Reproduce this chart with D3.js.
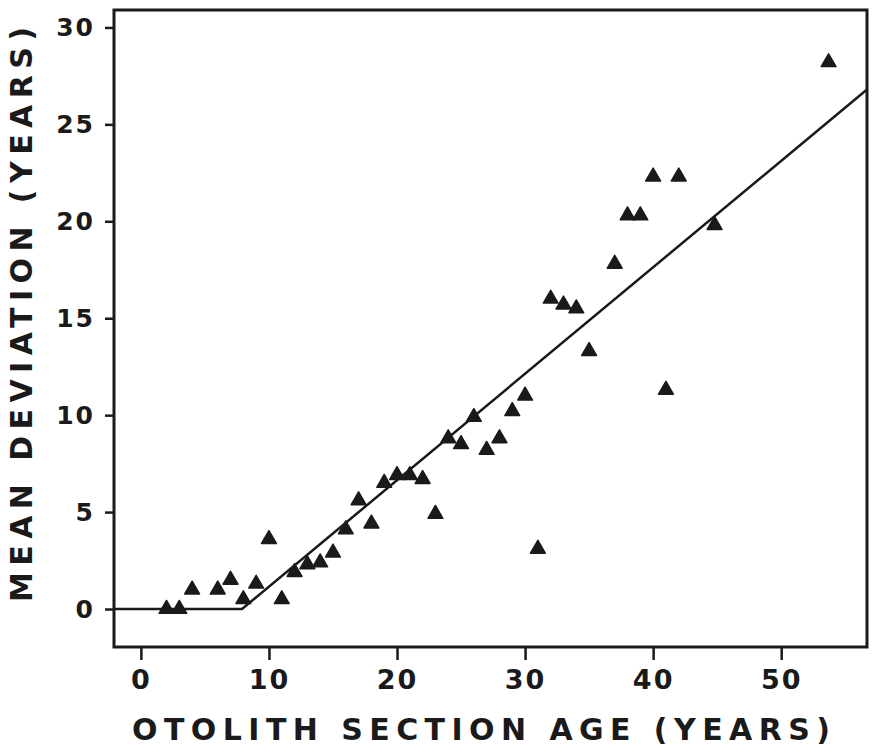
<!DOCTYPE html>
<html>
<head>
<meta charset="utf-8">
<script src="https://cdn.jsdelivr.net/npm/d3@7"></script>
<style>
  body { margin: 0; background: #fff; }
  #canvas { width: 872px; height: 746px; }
  text { font-family: "DejaVu Sans", sans-serif; font-weight: bold; fill: #1a1a1a; }
</style>
</head>
<body>
<div id="canvas" class="canvas"></div>
<script>
// otolith section age vs mean deviation
var ages = [2, 3, 4, 6, 7, 8, 9, 10, 11, 12, 13, 14, 15, 16, 17, 18, 19, 20, 21, 22, 23, 24, 25, 26, 27, 28, 29, 30, 31, 32, 33, 34, 35, 37, 38, 39, 40, 41, 42, 44.8, 53.7];
var deviations = [0, 0, 1.0, 1.0, 1.5, 0.5, 1.3, 3.6, 0.5, 1.9, 2.3, 2.4, 2.9, 4.1, 5.6, 4.4, 6.5, 6.9, 6.9, 6.7, 4.9, 8.8, 8.5, 9.9, 8.2, 8.8, 10.2, 11.0, 3.1, 16.0, 15.7, 15.5, 13.3, 17.8, 20.3, 20.3, 22.3, 11.3, 22.3, 19.8, 28.2];

// fitted broken line: flat then rising
var fitX = [-2.1, 7.9, 56.7];
var fitY = [0, 0, 26.8];

var xTicks = [0, 10, 20, 30, 40, 50];
var yTicks = [0, 5, 10, 15, 20, 25, 30];

var W = 872, H = 746;
var m = {t:10, r:5, b:99, l:114};
var w = W - m.l - m.r, h = H - m.t - m.b;

var svg = d3.select('.canvas')
    .append('svg')
    .attr('width', W)
    .attr('height', H);

var plot = svg.append('g')
    .attr('transform', 'translate(' + m.l + ',' + m.t + ')');

var x = d3.scaleLinear().domain([-2.1, 56.7]).range([0, w]);
var y = d3.scaleLinear().domain([-1.96, 30.9]).range([h, 0]);

var ink = '#1a1a1a';

// x axis ticks hanging below the frame
var xAxis = plot.append('g')
    .attr('transform', 'translate(0,' + h + ')')
    .call(d3.axisBottom(x).tickValues(xTicks).tickSize(13).tickPadding(10));
xAxis.select('.domain').remove();
xAxis.selectAll('line').attr('stroke', ink).attr('stroke-width', 2.5);
xAxis.selectAll('text')
    .attr('fill', ink)
    .style('font-size', '27px')
    .attr('letter-spacing', '2px');

var yAxis = plot.append('g')
    .call(d3.axisLeft(y).tickValues(yTicks).tickSize(9).tickPadding(10));
yAxis.select('.domain').remove();
yAxis.selectAll('line').attr('stroke', ink).attr('stroke-width', 2.5);
yAxis.selectAll('text')
    .attr('fill', ink)
    .style('font-size', '25px')
    .attr('letter-spacing', '2px');

// frame
plot.append('rect')
    .attr('width', w).attr('height', h)
    .attr('fill', 'none')
    .attr('stroke', ink)
    .attr('stroke-width', 3);

// fitted line
var line = d3.line()
    .x(function(d){ return x(d[0]); })
    .y(function(d){ return y(d[1]); });

plot.append('path')
    .datum(fitX.map(function(v, i){ return [v, fitY[i]]; }))
    .attr('d', line)
    .attr('fill', 'none')
    .attr('stroke', ink)
    .attr('stroke-width', 2.5);

// triangles
var tri = d3.symbol().type(d3.symbolTriangle).size(95);
plot.selectAll('.pt')
    .data(ages.map(function(a, i){ return {x:a, y:deviations[i]}; }))
    .enter()
    .append('path').attr('class', 'pt')
    .attr('d', tri)
    .attr('transform', function(d){ return 'translate(' + x(d.x) + ',' + y(d.y) + ')'; })
    .attr('fill', ink)
    .attr('stroke', ink)
    .attr('stroke-width', 1.5)
    .attr('stroke-linejoin', 'round');

// axis titles
svg.append('text')
    .attr('x', 132).attr('y', 740)
    .attr('textLength', 698)
    .attr('lengthAdjust', 'spacing')
    .style('font-size', '30px')
    .text('OTOLITH SECTION AGE (YEARS)');

svg.append('text')
    .attr('transform', 'translate(32,602) rotate(-90)')
    .attr('textLength', 575)
    .attr('lengthAdjust', 'spacing')
    .style('font-size', '30px')
    .text('MEAN DEVIATION (YEARS)');
</script>
</body>
</html>
